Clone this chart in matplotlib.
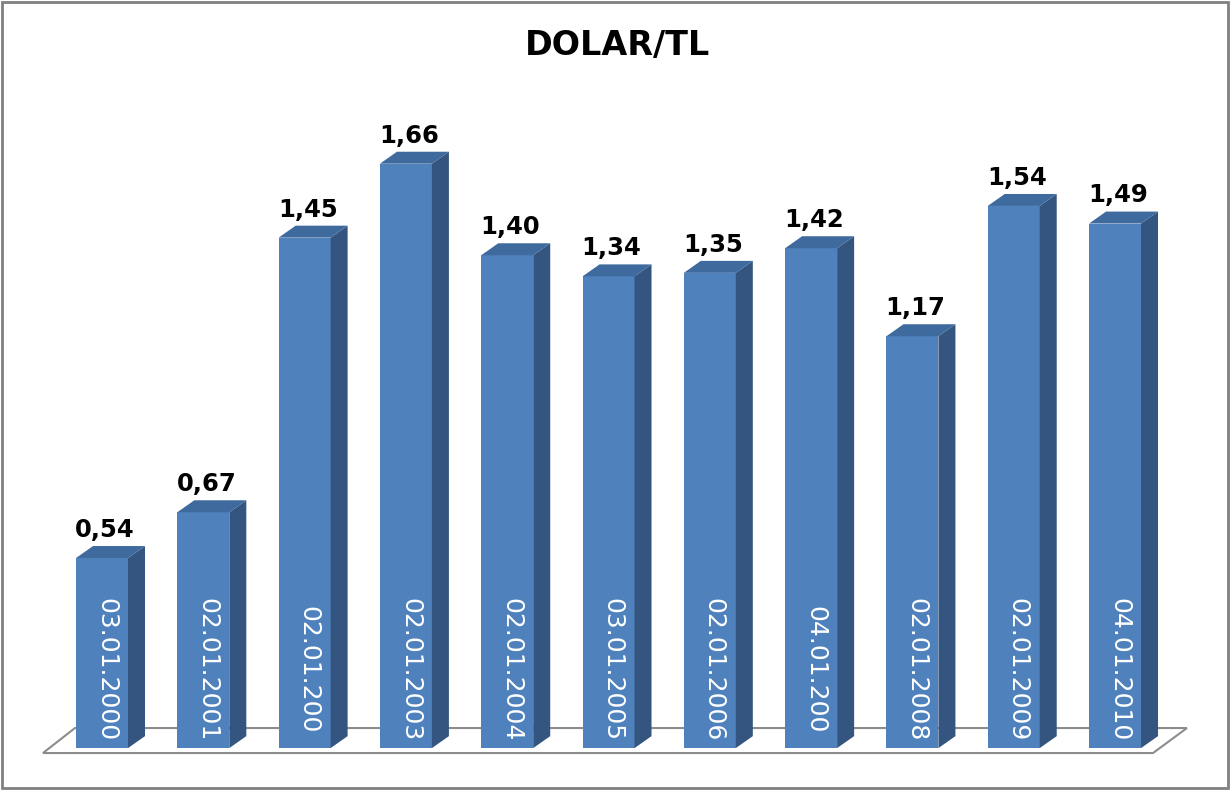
import matplotlib.pyplot as plt
from matplotlib.patches import Polygon, Rectangle

# Data
dates = ['03.01.2000', '02.01.2001', '02.01.200', '02.01.2003', '02.01.2004',
         '03.01.2005', '02.01.2006', '04.01.200', '02.01.2008', '02.01.2009',
         '04.01.2010']
values = [0.54, 0.67, 1.45, 1.66, 1.40, 1.34, 1.35, 1.42, 1.17, 1.54, 1.49]
value_labels = [f"{v:.2f}".replace('.', ',') for v in values]

front_color = '#4F81BD'
side_color = '#34557F'
top_color = '#3E6A9E'

fig = plt.figure(figsize=(12.3, 7.9), dpi=100)
ax = fig.add_axes([0, 0, 1, 1])
ax.set_xlim(-1.007, 11.135)
ax.set_ylim(-0.119, 2.125)
ax.axis('off')

n = len(values)
x = list(range(n))
width = 0.513
dx = 0.168   # 3d depth offset (x)
dy = 0.034   # 3d depth offset (y)

# floor
floor = Polygon([(-0.583, -0.014), (n - 1 + 0.375, -0.014),
                 (n - 1 + 0.71, 0.057), (-0.267, 0.057)],
                closed=True, facecolor='white', edgecolor='#8C8C8C',
                linewidth=1.5, zorder=1)
ax.add_patch(floor)

# front faces
ax.bar(x, values, width=width, color=front_color, zorder=3)

for xi, v, lab, d in zip(x, values, value_labels, dates):
    r = xi + width / 2
    l = xi - width / 2
    side = Polygon([(r, 0), (r + dx, dy), (r + dx, v + dy), (r, v)],
                   closed=True, facecolor=side_color, edgecolor='none', zorder=3)
    top = Polygon([(l, v), (r, v), (r + dx, v + dy), (l + dx, v + dy)],
                  closed=True, facecolor=top_color, edgecolor='none', zorder=3)
    ax.add_patch(side)
    ax.add_patch(top)
    ax.text(xi + 0.03, v + 0.06, lab, ha='center', va='baseline',
            fontsize=17.5, fontweight='bold', color='black', zorder=4)
    ax.text(xi + 0.04, 0.222, d, ha='center', va='center', rotation=270,
            fontsize=18, color='white', zorder=4)

# title
fig.text(618 / 1230, 1 - 45 / 790, 'DOLAR/TL', ha='center', va='center',
         fontsize=24, fontweight='bold')

# outer border
fig.patches.append(Rectangle((0.002, 0.003), 0.996, 0.994, transform=fig.transFigure,
                             fill=False, edgecolor='#808080', linewidth=2))

fig.savefig('out.png', dpi=100)
